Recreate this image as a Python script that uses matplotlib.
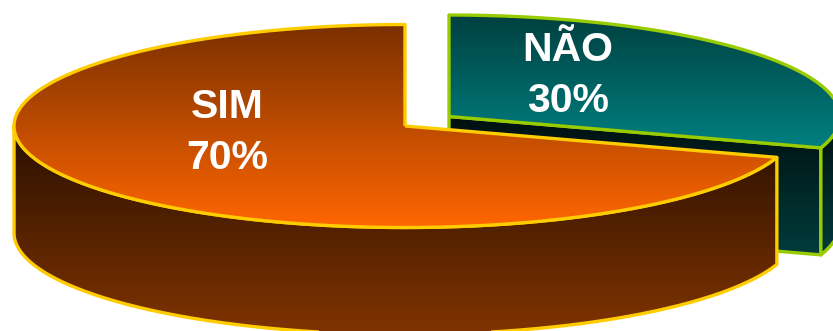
import numpy as np
import matplotlib
matplotlib.use('Agg')
import matplotlib.pyplot as plt
from matplotlib.colors import LinearSegmentedColormap
from matplotlib.patches import PathPatch
from matplotlib.path import Path

categorias = ['SIM', 'NÃO']
valores = [70, 30]

RX, RY = 391, 101.5
ALTURA = 107
LARANJA = '#ffcc00'
VERDE = '#99cc00'

plt.rcParams['font.family'] = ['Liberation Sans', 'DejaVu Sans']

fig = plt.figure(figsize=(8.33, 3.31), dpi=100)
ax = fig.add_axes([0, 0, 1, 1])
ax.axis('off')


def arco(cx, cy, ini, fim, n=200):
    # angulo em graus, horario a partir do topo da elipse
    t = np.radians(np.linspace(ini, fim, n))
    return np.column_stack([cx + RX * np.sin(t), cy - RY * np.cos(t)])


def face(pts, c1, c2, y1, y2, borda, lw=2.4):
    # poligono preenchido com degrade vertical (c1 em y1, c2 em y2)
    pts = np.vstack([pts, pts[0]])
    cm = LinearSegmentedColormap.from_list('g', [c1, c2])
    g = np.linspace(0, 1, 256).reshape(-1, 1)
    im = ax.imshow(g, cmap=cm, extent=[0, 833, y2, y1], aspect='auto',
                   origin='upper', zorder=face.z)
    patch = PathPatch(Path(pts), facecolor='none', edgecolor=borda, lw=lw,
                      joinstyle='round', zorder=face.z + 0.5)
    ax.add_patch(patch)
    im.set_clip_path(patch)
    face.z += 1


face.z = 1

frac_sim = valores[0] / sum(valores)
corte = 360 * (1 - frac_sim)  # fim da fatia NAO / inicio da fatia SIM

# fatia NAO, deslocada para a direita
cx, cy = 449, 116.5
fim = arco(cx, cy, corte, corte, 1)[0]
centro = np.array([cx, cy])
desce = np.array([0, ALTURA])
face(np.array([centro, fim, fim + desce, centro + desce]),
     '#001010', '#003c3c', 118, 256, VERDE)
borda_nao = arco(cx, cy, 90, corte)
face(np.vstack([borda_nao, (borda_nao + desce)[::-1]]),
     '#001010', '#003c3c', 118, 256, VERDE)
face(np.vstack([centro, arco(cx, cy, 0, corte)]),
     '#004040', '#008080', 15, 148, VERDE)

# fatia SIM
cx, cy = 405, 126
borda_sim = arco(cx, cy, corte, 270)
face(np.vstack([borda_sim, (borda_sim + desce)[::-1]]),
     '#2a1000', '#7f3300', 130, 331, LARANJA)
face(np.vstack([[cx, cy], arco(cx, cy, corte, 360)]),
     '#7a3000', '#ff6600', 25, 226, LARANJA)

# rotulos
rotulos = [(227, 132.5, 0), (568, 75.5, 1)]
for x, y, i in rotulos:
    ax.text(x, y, f'{categorias[i]}\n{valores[i]}%', color='white', fontsize=29.5,
            fontweight='bold', ha='center', va='center', linespacing=1.46,
            zorder=50)

ax.set_xlim(0, 833)
ax.set_ylim(331, 0)
fig.savefig('out.png', dpi=100, facecolor='white')
